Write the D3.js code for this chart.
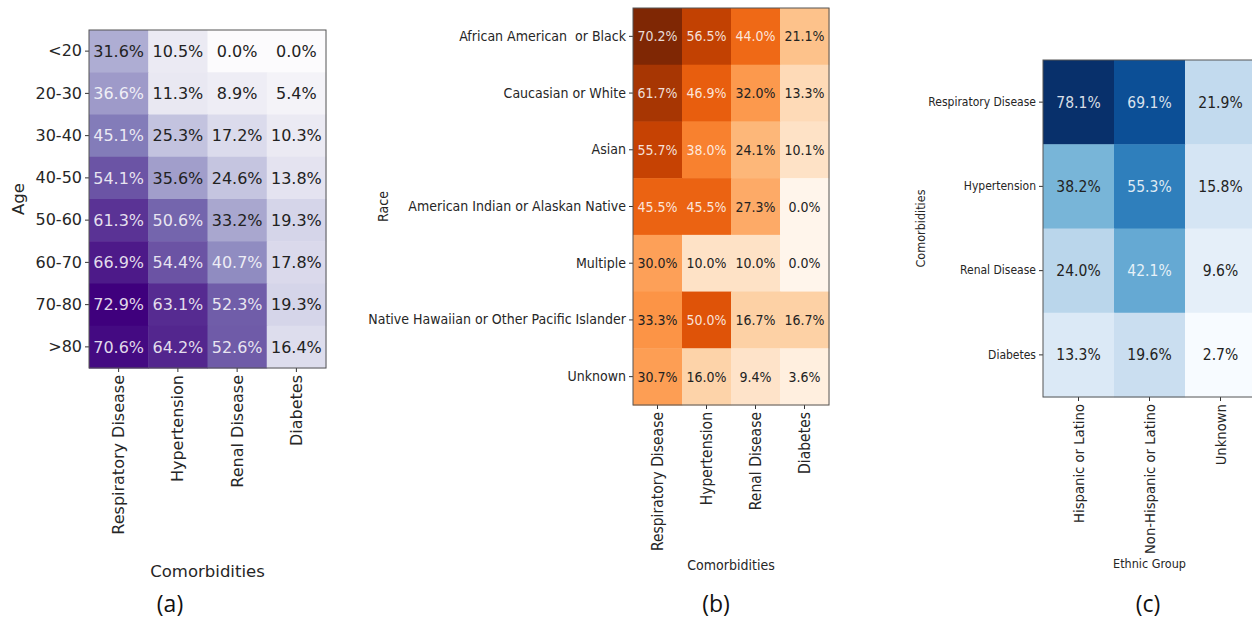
<!DOCTYPE html>
<html>
<head>
<meta charset="utf-8">
<script src="https://cdn.jsdelivr.net/npm/d3@7"></script>
<style>
    body { margin: 0; background: #fff; }
    .tick line { stroke: #333; }
    .tick text { white-space: pre; }
    .caption { font-family: "Open Sans", sans-serif; font-size: 23px; fill: #111; }
</style>
</head>
<body>
<div id="chart"></div>
<script>
// ---- data ----
var ageGroups = ["<20", "20-30", "30-40", "40-50", "50-60", "60-70", "70-80", ">80"];
var comorbidities = ["Respiratory Disease", "Hypertension", "Renal Disease", "Diabetes"];
var ageValues = [
    [31.6, 10.5, 0.0, 0.0],
    [36.6, 11.3, 8.9, 5.4],
    [45.1, 25.3, 17.2, 10.3],
    [54.1, 35.6, 24.6, 13.8],
    [61.3, 50.6, 33.2, 19.3],
    [66.9, 54.4, 40.7, 17.8],
    [72.9, 63.1, 52.3, 19.3],
    [70.6, 64.2, 52.6, 16.4]
];

var races = ["African American  or Black", "Caucasian or White", "Asian",
    "American Indian or Alaskan Native", "Multiple",
    "Native Hawaiian or Other Pacific Islander", "Unknown"];
var raceValues = [
    [70.2, 56.5, 44.0, 21.1],
    [61.7, 46.9, 32.0, 13.3],
    [55.7, 38.0, 24.1, 10.1],
    [45.5, 45.5, 27.3, 0.0],
    [30.0, 10.0, 10.0, 0.0],
    [33.3, 50.0, 16.7, 16.7],
    [30.7, 16.0, 9.4, 3.6]
];

var ethnicGroups = ["Hispanic or Latino", "Non-Hispanic or Latino", "Unknown"];
var ethnicValues = [
    [78.1, 69.1, 21.9],
    [38.2, 55.3, 15.8],
    [24.0, 42.1, 9.6],
    [13.3, 19.6, 2.7]
];

var captions = ["(a)", "(b)", "(c)"];

// ---- heatmap ----
Heatmap = function(_svg, _rows, _cols, _values, _labels, _box, _style){
    var vis = this;

    vis.svg = _svg;
    vis.rows = _rows;
    vis.cols = _cols;
    vis.values = _values;
    vis.labels = _labels;
    vis.box = _box;
    vis.style = _style;

    vis.initVis();
};

Heatmap.prototype.initVis = function(){
    var vis = this;
    var st = vis.style;

    vis.g = vis.svg.append("g")
        .attr("transform", "translate(" + vis.box.left + "," + vis.box.top + ")");

    vis.x = d3.scaleBand().domain(vis.cols).range([0, vis.box.width]);
    vis.y = d3.scaleBand().domain(vis.rows).range([0, vis.box.height]);

    // flatten matrix into cells
    vis.cells = [];
    vis.values.forEach(function(row, i){
        row.forEach(function(v, j){
            vis.cells.push({ row: vis.rows[i], col: vis.cols[j], value: v });
        });
    });

    var ext = d3.extent(vis.cells, function(d){ return d.value; });
    vis.color = d3.scaleSequential(st.scheme).domain(ext);
    vis.threshold = ext[1] / 2;

    vis.g.selectAll(".cell")
        .data(vis.cells)
        .enter().append("rect")
        .attr("class", "cell")
        .attr("x", function(d){ return vis.x(d.col); })
        .attr("y", function(d){ return vis.y(d.row); })
        .attr("width", vis.x.bandwidth() + 0.5)
        .attr("height", vis.y.bandwidth() + 0.5)
        .attr("fill", function(d){ return vis.color(d.value); });

    vis.g.selectAll(".val")
        .data(vis.cells)
        .enter().append("text")
        .attr("class", "val")
        .attr("x", function(d){ return vis.x(d.col) + vis.x.bandwidth() / 2; })
        .attr("y", function(d){ return vis.y(d.row) + vis.y.bandwidth() / 2; })
        .attr("dy", "0.36em")
        .attr("text-anchor", "middle")
        .style("font-family", st.font)
        .style("font-stretch", st.stretch)
        .style("font-size", st.valueSize + "px")
        .style("fill", function(d){ return d.value > vis.threshold ? "#fff" : "#222"; })
        .style("fill-opacity", function(d){ return d.value > vis.threshold ? 0.85 : 1; })
        .text(function(d){ return d.value.toFixed(1) + "%"; });

    // axes
    var yAxis = d3.axisLeft(vis.y).tickSize(4).tickPadding(3);
    var xAxis = d3.axisBottom(vis.x).tickSize(4).tickPadding(3);

    var yg = vis.g.append("g").call(yAxis);
    var xg = vis.g.append("g")
        .attr("transform", "translate(0," + vis.box.height + ")")
        .call(xAxis);

    [yg, xg].forEach(function(a){
        a.select(".domain").remove();
        a.selectAll("text")
            .style("font-family", st.font)
            .style("font-stretch", st.stretch)
            .style("font-size", st.tickSize + "px")
            .style("fill", "#262626");
    });

    xg.selectAll("text")
        .attr("transform", "rotate(-90)")
        .attr("x", -7)
        .attr("y", 0)
        .attr("dy", "0.35em")
        .attr("text-anchor", "end")
        .style("font-size", st.xTickSize + "px");

    // frame
    vis.g.append("rect")
        .attr("width", vis.box.width)
        .attr("height", vis.box.height)
        .attr("fill", "none")
        .attr("stroke", "#555")
        .attr("stroke-width", 1);

    // axis titles
    vis.svg.append("text")
        .attr("text-anchor", "middle")
        .attr("transform", "translate(" + st.yTitleX + "," + (vis.box.top + vis.box.height / 2) + ") rotate(-90)")
        .attr("dy", "0.35em")
        .style("font-family", st.font)
        .style("font-stretch", st.stretch)
        .style("font-size", st.titleSize + "px")
        .style("fill", "#262626")
        .text(vis.labels.y);

    vis.svg.append("text")
        .attr("text-anchor", "middle")
        .attr("x", vis.box.left + vis.box.width / 2)
        .attr("y", st.xTitleY)
        .attr("dy", "0.35em")
        .style("font-family", st.font)
        .style("font-stretch", st.stretch)
        .style("font-size", st.titleSize + "px")
        .style("fill", "#262626")
        .text(vis.labels.x);
};

var svg = d3.select("#chart").append("svg")
    .attr("width", 1252)
    .attr("height", 643);

var narrow = '"DejaVu Sans Condensed", "DejaVu Sans", sans-serif';

new Heatmap(svg, ageGroups, comorbidities, ageValues,
    { x: "Comorbidities", y: "Age" },
    { left: 89, top: 30, width: 237, height: 338 },
    { scheme: d3.interpolatePurples, font: '"DejaVu Sans", sans-serif', stretch: "normal",
      valueSize: 16, tickSize: 16, xTickSize: 16, titleSize: 16.5, yTitleX: 18, xTitleY: 571 });

new Heatmap(svg, races, comorbidities, raceValues,
    { x: "Comorbidities", y: "Race" },
    { left: 633, top: 8, width: 196, height: 397 },
    { scheme: d3.interpolateOranges, font: narrow, stretch: "condensed",
      valueSize: 14, tickSize: 14, xTickSize: 15.5, titleSize: 14, yTitleX: 383, xTitleY: 565 });

new Heatmap(svg, comorbidities, ethnicGroups, ethnicValues,
    { x: "Ethnic Group", y: "Comorbidities" },
    { left: 1043, top: 60, width: 213, height: 337 },
    { scheme: d3.interpolateBlues, font: narrow, stretch: "condensed",
      valueSize: 15.5, tickSize: 12, xTickSize: 14.7, titleSize: 12.5, yTitleX: 921, xTitleY: 564 });

svg.selectAll(".caption")
    .data(captions)
    .enter().append("text")
    .attr("class", "caption")
    .attr("x", function(d, i){ return [170, 716, 1148][i]; })
    .attr("y", 604)
    .attr("dy", "0.35em")
    .attr("text-anchor", "middle")
    .text(function(d){ return d; });
</script>
</body>
</html>
